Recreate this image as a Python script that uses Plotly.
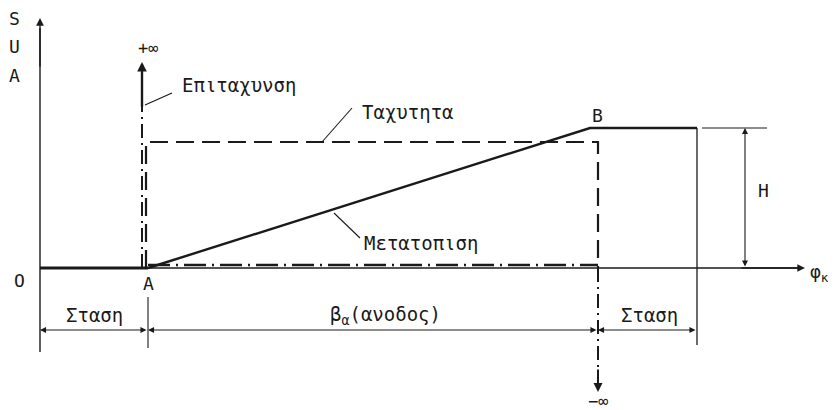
import plotly.graph_objects as go

# Key cam angles (phi) and levels, in drawing units
phi_O, phi_A, phi_B, phi_C, phi_D = 0, 108, 550, 558, 657   # O, A (rise start), B (rise end), velocity drop, dwell end
H = 140          # lift
V = 126          # velocity level
ACC_TOP = 206    # +inf arrow
ACC_BOT = -124   # -inf arrow
DIM_Y = -62      # dimension line level

# displacement curve
disp_phi = [phi_O, phi_A, phi_B, phi_D, phi_D]
disp_s = [0, 0, H, H, -77]
# velocity curve
vel_phi = [phi_A - 2, phi_A - 2, phi_C, phi_C]
vel_v = [0, V, V, 0]
# acceleration curve
acc_phi = [phi_A - 6, phi_A - 6]
acc_a = [0, 165]
acc2_phi = [phi_A, phi_C]
acc2_a = [3, 3]
acc3_phi = [phi_C, phi_C]
acc3_a = [0, -110]

ink = "#1a1a1a"
FONT = "DejaVu Sans Mono"

fig = go.Figure()

def line(x, y, w=1.2, dash="solid"):
    fig.add_trace(go.Scatter(x=x, y=y, mode="lines", line=dict(color=ink, width=w, dash=dash),
                             hoverinfo="skip", showlegend=False))

# axes lines
line([0, 0], [-84, 240], 1.4)
line([0, 760], [0, 0], 1.4)
# displacement
line([phi_O, phi_A], [0, 0], 3)
line(disp_phi[1:4], disp_s[1:4], 2.4)
line([phi_D, phi_D], [H, -77], 1.3)
# velocity
line(vel_phi, vel_v, 2.2, "18px,8px")
# acceleration
line(acc_phi, acc_a, 2, "14px,5px,2px,5px")
line(acc2_phi, acc2_a, 2.4, "22px,6px,2px,6px")
line(acc3_phi, acc3_a, 2, "14px,5px,2px,5px")
# H dimension
line([phi_D + 5, phi_D + 70], [H, H], 1.1)
# extension lines
line([phi_A, phi_A], [-29, -80], 1.1)
# leader lines
line([105, 132], [163, 175], 1.1)
line([282, 312], [126, 160], 1.1)
line([294, 320], [55, 30], 1.1)

anns = []
def arrow(x, y, ax, ay, side="end", w=1.4, size=1.0):
    anns.append(dict(x=x, y=y, ax=ax, ay=ay, xref="x", yref="y", axref="x", ayref="y",
                     showarrow=True, arrowhead=2, startarrowhead=2, arrowside=side,
                     arrowwidth=w, arrowsize=size, startarrowsize=size, arrowcolor=ink, text=""))

arrow(0, 250, 0, 200, w=1.4, size=1.1)
arrow(765, 0, 700, 0, w=1.4, size=1.1)
arrow(phi_A - 6, ACC_TOP, phi_A - 6, 160, w=2.4, size=0.8)
arrow(phi_C, ACC_BOT, phi_C, -100, w=2, size=0.9)
arrow(705, H, 705, 0, side="end+start", w=1.1, size=1.1)
arrow(phi_O, DIM_Y, phi_A, DIM_Y, side="end+start", w=1.1, size=1.1)
arrow(phi_A, DIM_Y, phi_C, DIM_Y, side="end+start", w=1.1, size=1.1)
arrow(phi_C, DIM_Y, phi_D, DIM_Y, side="end+start", w=1.1, size=1.1)

def text(x, y, t, xa="center", size=19):
    anns.append(dict(x=x, y=y, xref="x", yref="y", text=t, showarrow=False,
                     font=dict(family=FONT, size=size, color=ink), xanchor=xa, yanchor="middle"))

text(-26, 250, "S", size=18)
text(-26, 222, "U", size=18)
text(-26, 193, "A", size=18)
text(-21, -12, "O", size=18)
text(phi_A, -15, "A", size=18)
text(phi_B + 7, 153, "B", size=18)
text(phi_A, 220, "+∞", size=17)
text(phi_C, -133, "−∞", size=17)
text(140, 183, "Επιταχυνση", "left")
text(320, 156, "Ταχυτητα", "left")
text(322, 25, "Μετατοπιση", "left")
text(716, 78, "H", "left", size=18)
text(768, -5, "φ<sub>κ</sub>", "left", size=18)
text(phi_A / 2, -47, "Σταση")
text(345, -47, "β<sub>α</sub>(ανοδος)")
text((phi_C + phi_D) / 2 + 2, -47, "Σταση")

fig.update_layout(
    width=836, height=410, margin=dict(l=0, r=0, t=0, b=0),
    paper_bgcolor="white", plot_bgcolor="white",
    xaxis=dict(range=[-32, 804], visible=False, fixedrange=True),
    yaxis=dict(range=[-150, 260], visible=False, fixedrange=True),
    annotations=anns,
)
fig.write_html("out.html")
